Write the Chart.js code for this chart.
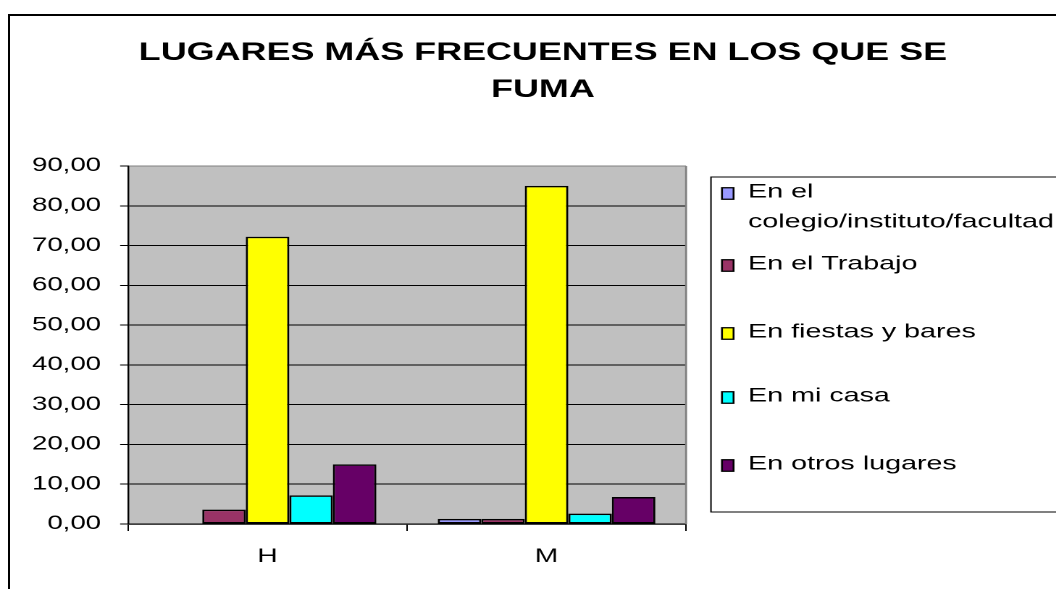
<!DOCTYPE html>
<html>
<head>
<meta charset="utf-8">
<script src="https://cdn.jsdelivr.net/npm/chart.js@4.4.1/dist/chart.umd.min.js"></script>
<style>
  html, body { margin:0; padding:0; background:#fff; overflow:hidden; width:1056px; height:589px; }
  #wrap { position:absolute; left:0; top:0; width:729px; height:589px; transform:scaleX(1.4486); transform-origin:0 0; }
  #frame { position:absolute; left:8px; top:14px; width:1100px; height:700px; border:2px solid #000; pointer-events:none; }
</style>
</head>
<body>
<div id="wrap"><canvas id="c"></canvas></div>
<div id="frame"></div>
<script>
// ---- data ----
const categories = ['H', 'M'];
const titleLines = ['LUGARES MÁS FRECUENTES EN LOS QUE SE', 'FUMA'];
const seriesNames = ['En el colegio/instituto/facultad', 'En el Trabajo', 'En fiestas y bares', 'En mi casa', 'En otros lugares'];
const seriesColors = ['#9999FF', '#993366', '#FFFF00', '#00FFFF', '#660066'];
const enColegio = [0, 1.3];
const enTrabajo = [3.6, 1.3];
const enFiestas = [72.2, 85.0];
const enCasa = [7.2, 2.6];
const enOtros = [15.0, 6.8];
const yTickValues = [0, 10, 20, 30, 40, 50, 60, 70, 80, 90];

const FONT = "'Liberation Sans', Arial, Helvetica, sans-serif";
const seriesValues = [enColegio, enTrabajo, enFiestas, enCasa, enOtros];

const plotBg = {
  id: 'plotBg',
  beforeDraw(chart) {
    const a = chart.chartArea, ctx = chart.ctx;
    ctx.save();
    ctx.fillStyle = '#C0C0C0';
    ctx.fillRect(a.left, a.top, a.right - a.left, a.bottom - a.top);
    ctx.restore();
  },
  beforeDatasetsDraw(chart) {
    const a = chart.chartArea, ctx = chart.ctx;
    ctx.save();
    ctx.strokeStyle = '#808080';
    ctx.lineWidth = 1.4;
    ctx.beginPath();
    ctx.moveTo(a.right, a.top);
    ctx.lineTo(a.right, a.bottom);
    ctx.stroke();
    ctx.restore();
  }
};

const sideLegend = {
  id: 'sideLegend',
  afterDraw(chart, args, opts) {
    const ctx = chart.ctx;
    ctx.save();
    ctx.strokeStyle = '#000';
    ctx.lineWidth = 1;
    ctx.beginPath();
    ctx.moveTo(chart.width + 5, opts.boxTop);
    ctx.lineTo(opts.boxLeft, opts.boxTop);
    ctx.lineTo(opts.boxLeft, opts.boxBottom);
    ctx.lineTo(chart.width + 5, opts.boxBottom);
    ctx.stroke();
    ctx.font = opts.fontSize + 'px ' + FONT;
    ctx.textBaseline = 'middle';
    ctx.textAlign = 'left';
    const maxW = chart.width - opts.textX + 4;
    chart.data.datasets.forEach((ds, i) => {
      const y = opts.itemY[i];
      const words = ds.label.split(' ');
      const lines = [];
      let cur = '';
      words.forEach(w => {
        const test = cur ? cur + ' ' + w : w;
        if (cur && ctx.measureText(test).width > maxW) { lines.push(cur); cur = w; }
        else cur = test;
      });
      if (cur) lines.push(cur);
      const sy = y - opts.boxH / 2 + 1.5;
      ctx.fillStyle = ds.backgroundColor;
      ctx.fillRect(opts.boxX, sy, opts.boxW, opts.boxH);
      ctx.strokeStyle = '#000';
      ctx.lineWidth = 1.3;
      ctx.strokeRect(opts.boxX, sy, opts.boxW, opts.boxH);
      ctx.fillStyle = '#000';
      lines.forEach((ln, k) => ctx.fillText(ln, opts.textX, y + k * opts.lineGap));
    });
    ctx.restore();
  }
};

const datasets = seriesNames.map((name, i) => ({
  label: name,
  data: seriesValues[i],
  backgroundColor: seriesColors[i],
  borderColor: '#000',
  borderWidth: 1.5,
  borderSkipped: false,
  xAxisID: 'x',
  yAxisID: 'y',
  categoryPercentage: 0.78,
  barPercentage: 1.0
}));

new Chart(document.getElementById('c'), {
  type: 'bar',
  data: { labels: categories, datasets },
  options: {
    responsive: true,
    maintainAspectRatio: false,
    devicePixelRatio: 2,
    animation: false,
    layout: { padding: { left: 20.6, right: 0, top: 0, bottom: 0 } },
    plugins: {
      legend: { display: false },
      tooltip: { enabled: false },
      title: {
        display: true,
        text: titleLines,
        color: '#000',
        font: { family: FONT, size: 24.8, weight: 'bold', lineHeight: 37 / 24.8 },
        padding: { top: 34.5, bottom: 57.5 }
      },
      sideLegend: {
        boxLeft: 490.8, boxTop: 177, boxBottom: 512,
        boxX: 498.4, boxW: 8, boxH: 11.5,
        textX: 516.4, fontSize: 19.8, lineGap: 30,
        itemY: [192, 264, 332, 396, 464]
      }
    },
    scales: {
      x: {
        offset: true,
        grid: { display: true, drawOnChartArea: false, drawTicks: true, tickLength: 7, color: '#000', offset: true },
        border: { display: true, color: '#000', width: 1.2 },
        ticks: { color: '#000', font: { family: FONT, size: 19.5 }, padding: 14 },
        afterFit(s) { s.height = 65; }
      },
      y: {
        position: 'left',
        min: 0,
        max: 90,
        afterBuildTicks(s) { s.ticks = yTickValues.map(v => ({ value: v })); },
        grid: {
          color: c => (c.tick && c.tick.value === 90) ? '#808080' : '#000',
          tickColor: '#000',
          lineWidth: 1,
          drawTicks: true,
          tickLength: 5.5
        },
        border: { display: true, color: '#000', width: 1.2 },
        ticks: {
          color: '#000',
          font: { family: FONT, size: 19 },
          padding: 13.2,
          callback: v => Number(v).toFixed(2).replace('.', ',')
        },
        afterFit(s) { s.width = 67.8; }
      },
      yR: {
        position: 'right',
        display: true,
        grid: { display: false, drawTicks: false },
        border: { display: false },
        ticks: { display: false },
        afterFit(s) { s.width = 255.4; }
      }
    }
  },
  plugins: [plotBg, sideLegend]
});
</script>
</body>
</html>
